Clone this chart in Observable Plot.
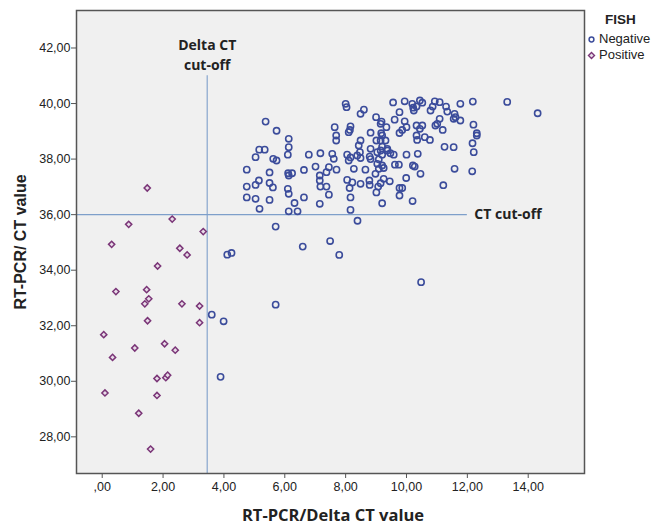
<!DOCTYPE html>
<html>
<head>
<meta charset="utf-8">
<script src="https://cdn.jsdelivr.net/npm/d3@7"></script>
<script src="https://cdn.jsdelivr.net/npm/@observablehq/plot@0.6"></script>
<style>
  html, body { margin: 0; padding: 0; background: #fff; }
  #wrap { position: relative; width: 667px; height: 530px; font-family: "Liberation Sans", Arial, sans-serif; }
  #wrap > svg.chart { position: absolute; left: 0; top: 0; }
  .xtitle { position: absolute; left: 333px; top: 503px; transform: translateX(-50%); white-space: nowrap;
            font-family: "Open Sans", sans-serif; font-weight: 700; font-size: 16.5px; color: #222; }
  .ytitle { position: absolute; left: 21px; top: 242px; transform: translate(-50%, -50%) rotate(-90deg);
            white-space: nowrap; font-weight: 700; font-size: 16px; color: #222; }
  .legend { position: absolute; left: 587px; top: 12px; font-size: 13px; color: #222; line-height: 16px; }
  .legend .ttl { font-weight: 700; font-size: 13.5px; margin-left: 18px; margin-bottom: 3px; }
  .legend .row { display: flex; align-items: center; }
  .legend .row svg { margin-right: 3px; }
</style>
</head>
<body>
<div id="wrap">
  <div class="xtitle">RT-PCR/Delta CT value</div>
  <div class="ytitle">RT-PCR/ CT value</div>
  <div class="legend">
    <div class="ttl">FISH</div>
    <div class="row"><svg width="9" height="9"><circle cx="4.5" cy="4.5" r="2.4" fill="none" stroke="#3b4c9b" stroke-width="1.5"/></svg>Negative</div>
    <div class="row"><svg width="9" height="9"><path d="M4.5,1.5 L7.5,4.5 L4.5,7.5 L1.5,4.5 Z" fill="#e8dce8" stroke="#7a3577" stroke-width="1.4"/></svg>Positive</div>
  </div>
</div>
<script>
// ---- Data ----
const negativeDelta = [
  5.04,5.04,5.15,5.04,5.17,5.50,5.50,5.61,5.50,5.62,5.73,6.10,6.11,6.24,6.13,6.10,6.13,6.32,6.13,6.42,
  6.63,6.63,6.79,7.01,7.15,7.15,7.17,7.37,7.45,7.15,7.37,7.45,7.70,7.17,7.56,7.61,8.05,8.10,8.16,8.38,
  8.05,8.22,8.13,8.16,8.16,8.27,8.49,8.65,8.79,8.82,8.79,8.98,9.04,9.09,9.25,9.01,9.07,9.15,9.25,9.45,
  9.20,9.04,9.20,9.47,9.58,9.62,9.75,9.77,9.86,9.77,9.99,10.00,10.21,10.27,10.20,10.37,10.46,11.21,11.58,12.16,
  12.21,5.37,5.73,6.13,6.13,5.16,5.34,4.75,4.75,4.75,
  8.00,8.03,9.56,9.94,9.77,10.19,10.22,10.24,10.33,10.44,10.52,10.93,11.09,10.86,10.79,11.30,11.34,11.58,11.77,12.18,
  9.34,9.15,9.61,9.94,9.77,9.86,10.00,10.33,10.52,10.44,10.95,11.01,11.09,11.19,11.55,11.61,11.77,9.20,9.15,9.31,
  10.33,10.35,10.60,10.77,11.25,11.55,9.20,9.37,7.64,8.16,8.14,8.10,7.69,7.69,8.60,8.49,9.00,9.18,8.82,9.17,
  9.01,8.49,8.43,8.82,9.15,9.37,8.47,9.09,9.20,8.49,8.78,
  13.31,14.31,12.20,12.31,12.31,12.17,
  3.60,3.99,4.11,4.25,5.70,6.59,5.70,3.89,7.49,7.79,10.48,8.39
];
const negativeCT = [
  38.07,37.07,37.23,36.57,36.21,37.52,37.14,36.98,36.53,38.01,37.95,38.16,37.49,37.49,37.41,36.93,36.75,36.42,36.12,36.12,
  37.61,36.62,38.16,37.73,37.41,37.23,37.01,37.01,36.72,36.39,37.53,37.71,37.62,38.21,38.19,38.01,38.16,37.95,38.06,38.13,
  37.25,37.16,36.96,36.62,36.17,37.65,37.11,37.62,38.09,38.00,37.07,37.47,37.83,37.65,37.68,36.80,37.01,37.13,37.29,37.20,
  36.41,38.25,38.16,38.21,38.16,37.80,37.80,36.96,36.96,36.69,37.32,38.16,37.77,37.73,36.49,38.19,37.47,37.06,37.65,37.56,
  38.25,39.35,39.02,38.73,38.43,38.34,38.34,37.62,37.01,36.62,
  39.99,39.87,40.04,40.08,39.69,39.99,39.85,39.75,39.89,40.11,40.03,40.08,40.05,39.89,39.75,39.89,39.71,39.63,39.99,40.07,
  39.15,39.27,39.42,39.36,38.94,39.05,39.15,39.21,39.21,39.09,39.21,39.27,39.45,39.05,39.45,39.51,39.39,38.85,38.67,38.67,
  38.85,38.69,38.79,38.69,38.44,38.43,38.45,38.37,39.15,39.18,39.05,38.97,38.85,38.67,39.78,39.63,39.51,39.35,38.95,38.93,
  38.67,38.67,38.49,38.37,38.31,38.31,38.25,37.99,37.77,38.04,37.23,
  40.06,39.65,39.24,38.93,38.85,38.57,
  32.40,32.16,34.56,34.62,35.57,34.85,32.76,30.16,35.05,34.55,33.57,35.78
];
const positiveDelta = [
  1.48,0.87,2.30,3.32,0.31,2.55,2.79,1.82,0.45,1.46,1.53,1.40,2.62,3.20,1.49,3.20,0.05,1.07,2.05,2.40,
  0.34,1.80,2.09,2.15,0.09,1.80,1.20,1.59
];
const positiveCT = [
  36.96,35.65,35.84,35.39,34.93,34.79,34.55,34.15,33.23,33.30,32.97,32.79,32.79,32.71,32.18,32.11,31.68,31.20,31.35,31.12,
  30.86,30.10,30.13,30.22,29.58,29.49,28.85,27.56
];
const xTicks = [0, 2, 4, 6, 8, 10, 12, 14];
const yTicks = [28, 30, 32, 34, 36, 38, 40, 42];
const xDomain = [-0.845, 15.85];
const yDomain = [26.68, 43.35];
const deltaCutoff = 3.45;      // vertical reference line
const deltaLineTop = 41.0;
const ctCutoff = 36.0;         // horizontal reference line
const ctLineEnd = 12.0;
const deltaLabel = "Delta CT\ncut-off";
const ctLabel = "CT cut-off";

const negative = negativeDelta.map((d, i) => ({delta: d, ct: negativeCT[i]}));
const positive = positiveDelta.map((d, i) => ({delta: d, ct: positiveCT[i]}));

const fmt = d => d === 0 ? ",00" : d.toFixed(2).replace(".", ",");
const navy = "#3b4c9b", purple = "#7a3577", refColor = "#7e9fca";

const chart = Plot.plot({
  width: 667, height: 530,
  marginLeft: 76, marginRight: 83, marginTop: 10, marginBottom: 57,
  className: "chart",
  style: {fontFamily: "'Liberation Sans', Arial, sans-serif", fontSize: "12.5px", color: "#222", background: "transparent"},
  x: {domain: xDomain},
  y: {domain: yDomain},
  marks: [
    Plot.frame({fill: "#f0f0f0", stroke: null}),
    Plot.axisX({ticks: xTicks, tickFormat: fmt, label: null, tickSize: 5, tickPadding: 4, stroke: "#555"}),
    Plot.axisY({ticks: yTicks, tickFormat: fmt, label: null, tickSize: 5, tickPadding: 1, stroke: "#555"}),
    Plot.ruleX([deltaCutoff], {y1: deltaLineTop, y2: yDomain[0], stroke: refColor, strokeWidth: 1.1}),
    Plot.ruleY([ctCutoff], {x1: xDomain[0], x2: ctLineEnd, stroke: refColor, strokeWidth: 1.1}),
    Plot.dot(negative, {x: "delta", y: "ct", r: 3.1, stroke: navy, strokeWidth: 1.6, fill: "none"}),
    Plot.dot(positive, {x: "delta", y: "ct", symbol: "diamond2", r: 2.8, stroke: purple, strokeWidth: 1.5, fill: "#e8dce8"}),
    Plot.text([deltaLabel], {x: deltaCutoff, y: deltaLineTop, text: d => d, dy: -22, lineAnchor: "middle", lineHeight: 1.43,
      fontFamily: "'Open Sans', sans-serif", fontWeight: 700, fontSize: 14, fill: "#222"}),
    Plot.text([ctLabel], {x: ctLineEnd, y: ctCutoff, text: d => d, dx: 7, textAnchor: "start",
      fontFamily: "'Open Sans', sans-serif", fontWeight: 700, fontSize: 14, fill: "#222"}),
    Plot.frame({stroke: "#555", strokeWidth: 1.5})
  ]
});
document.getElementById("wrap").prepend(chart);
</script>
</body>
</html>
